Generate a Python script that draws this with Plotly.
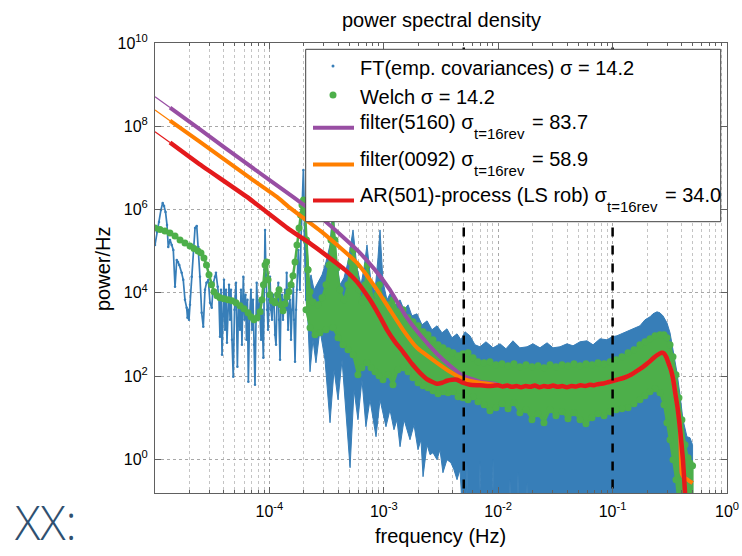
import numpy as np
import plotly.graph_objects as go

# ---------------------------------------------------------------------------
# Spectra, given as log10(frequency / Hz) and log10(power / Hz)
# ---------------------------------------------------------------------------

# FT of the empirical covariances: resolved low-frequency part
ft_lf = [-5.000, -4.983, -4.965, -4.948, -4.933, -4.921, -4.908, -4.895, -4.884, -4.869,
         -4.854, -4.840, -4.825, -4.810, -4.799, -4.788, -4.767, -4.753, -4.738, -4.723,
         -4.716, -4.709, -4.703, -4.694, -4.679, -4.665, -4.650, -4.635, -4.621, -4.607,
         -4.592, -4.578, -4.563, -4.550, -4.534, -4.519, -4.504, -4.490, -4.476, -4.467,
         -4.452, -4.441, -4.432, -4.423, -4.414, -4.406, -4.397, -4.388, -4.379, -4.371,
         -4.362, -4.353, -4.344, -4.336, -4.327, -4.316, -4.305, -4.292, -4.280, -4.270,
         -4.257, -4.248, -4.240, -4.228, -4.218, -4.209, -4.200, -4.192, -4.184, -4.174,
         -4.161, -4.152, -4.143, -4.135, -4.126, -4.117, -4.111, -4.100, -4.087, -4.073,
         -4.065, -4.053, -4.044, -4.038, -4.030, -4.021, -4.012, -4.003, -3.995, -3.986,
         -3.977, -3.969, -3.960, -3.951, -3.942, -3.934, -3.922, -3.916, -3.907, -3.899,
         -3.890, -3.881, -3.872, -3.864, -3.855, -3.849, -3.837, -3.829, -3.820, -3.811,
         -3.802, -3.791, -3.785, -3.776, -3.767, -3.759, -3.747, -3.741, -3.733, -3.724,
         -3.715, -3.703, -3.693, -3.680]
ft_lp = [5.150, 5.462, 5.702, 5.990, 6.158, 6.086, 5.942, 5.630, 5.102, 5.270,
         5.150, 5.030, 4.142, 4.790, 4.742, 4.670, 4.478, 4.310, 3.830, 3.638,
         3.398, 3.590, 3.350, 3.710, 4.382, 5.102, 5.558, 5.606, 5.102, 4.382,
         3.518, 3.182, 4.070, 4.238, 4.310, 3.758, 3.638, 4.238, 4.382, 4.478,
         4.142, 3.830, 2.942, 4.070, 2.510, 3.830, 4.310, 3.110, 4.070, 2.798,
         3.830, 4.190, 3.350, 4.070, 2.870, 1.982, 3.590, 4.238, 2.222, 3.710,
         3.110, 4.070, 2.750, 4.382, 3.350, 3.950, 2.870, 3.830, 1.862, 3.350,
         4.070, 3.110, 3.830, 2.750, 1.790, 3.350, 4.238, 3.350, 3.830, 2.870,
         3.590, 2.438, 4.550, 5.510, 4.430, 3.590, 3.110, 3.830, 4.382, 3.590,
         3.350, 3.950, 3.830, 2.990, 2.750, 3.710, 4.238, 3.350, 2.390, 3.710,
         3.950, 3.350, 3.830, 4.070, 3.590, 4.478, 3.110, 3.710, 3.830, 2.870,
         3.590, 4.142, 3.350, 2.342, 3.590, 4.070, 5.030, 4.550, 4.070, 5.270,
         6.230, 6.950, 5.750, 3.830]

# FT of the empirical covariances: dense part, upper envelope
ft_hi_lf = [-3.698, -3.680, -3.663, -3.636, -3.610, -3.575, -3.540, -3.505, -3.470, -3.444,
            -3.418, -3.383, -3.348, -3.313, -3.269, -3.234, -3.199, -3.173, -3.147, -3.112,
            -3.077, -3.051, -3.033, -3.007, -2.972, -2.937, -2.902, -2.858, -2.823, -2.788,
            -2.754, -2.710, -2.666, -2.622, -2.579, -2.535, -2.491, -2.448, -2.404, -2.360,
            -2.325, -2.290, -2.247, -2.203, -2.159, -2.107, -2.045, -1.984, -1.932, -1.871,
            -1.810, -1.748, -1.696, -1.635, -1.573, -1.521, -1.460, -1.399, -1.346, -1.285,
            -1.224, -1.171, -1.110, -1.049, -1.005, -0.962, -0.918, -0.874, -0.822, -0.761,
            -0.717, -0.673, -0.647, -0.612, -0.586, -0.560, -0.525, -0.498, -0.472, -0.437,
            -0.411, -0.385, -0.350, -0.324, -0.301]
ft_hi_lp = [5.990, 4.790, 4.190, 4.430, 4.070, 4.262, 4.430, 4.742, 5.150, 6.062,
            4.910, 4.190, 4.358, 4.742, 5.510, 4.598, 4.190, 4.598, 5.150, 4.262,
            4.022, 4.838, 5.510, 4.262, 3.830, 4.022, 3.710, 3.830, 3.590, 3.710,
            3.446, 3.494, 3.230, 3.326, 3.110, 3.206, 3.038, 3.134, 2.918, 3.014,
            2.870, 3.062, 2.966, 2.750, 2.702, 2.822, 2.678, 2.774, 2.654, 2.846,
            2.678, 2.702, 2.774, 2.678, 2.798, 2.678, 2.702, 2.774, 2.726, 2.822,
            2.846, 2.750, 2.894, 2.870, 2.942, 2.966, 3.014, 3.062, 3.134, 3.206,
            3.350, 3.422, 3.494, 3.542, 3.518, 3.446, 3.278, 3.038, 2.630, 2.078,
            1.550, 0.950, 0.542, 0.518, 0.350]

# FT of the empirical covariances: dense part, lower envelope
ft_lo_lf = [-3.698, -3.680, -3.663, -3.645, -3.619, -3.593, -3.558, -3.514, -3.470, -3.435,
            -3.400, -3.365, -3.330, -3.295, -3.260, -3.226, -3.191, -3.156, -3.121, -3.094,
            -3.068, -3.033, -3.007, -2.981, -2.946, -2.911, -2.885, -2.858, -2.823, -2.797,
            -2.771, -2.736, -2.701, -2.675, -2.657, -2.622, -2.596, -2.570, -2.535, -2.509,
            -2.483, -2.448, -2.413, -2.387, -2.360, -2.334, -2.308, -2.282, -2.273, -2.264,
            -2.168, -2.159, -2.151, -2.054, -2.045, -2.037, -1.906, -1.897, -1.888, -1.836,
            -1.827, -1.818, -1.757, -1.748, -1.740, -0.301]
ft_lo_lp = [5.510, 3.830, 3.302, 2.102, 2.870, 2.318, 3.110, 2.390, 0.878, 2.150,
            1.430, 2.390, 1.190, -0.202, 1.670, 0.950, 1.910, 0.782, 1.430, 0.950,
            0.542, 1.430, 1.070, 0.782, 1.190, 0.710, 0.950, 0.302, 0.950, 0.710,
            0.470, 0.830, 0.230, 0.470, -0.418, 0.350, 0.110, 0.158, -0.010, 0.230,
            -0.322, -0.010, -0.082, -0.250, -0.490, -0.250, -1.500, -1.500, -0.058, -1.500,
            -1.500, -0.058, -1.500, -1.500, -0.010, -1.500, -1.500, -0.490, -1.500, -1.500,
            -0.322, -1.500, -1.500, -0.562, -1.500, -1.500]

# Welch estimate: smooth low-frequency part
welch_lf = [-5.000, -4.956, -4.913, -4.869, -4.825, -4.781, -4.738, -4.694, -4.659, -4.624,
            -4.598, -4.572, -4.550, -4.528, -4.506, -4.484, -4.458, -4.432, -4.397, -4.362,
            -4.327, -4.292, -4.257, -4.222, -4.187, -4.161, -4.135, -4.108, -4.082, -4.065,
            -4.052, -4.038, -4.025, -4.012, -3.995, -3.973, -3.951, -3.929, -3.916, -3.899,
            -3.881, -3.864, -3.846, -3.829, -3.811, -3.794, -3.776, -3.759, -3.741, -3.728,
            -3.715, -3.702, -3.689, -3.676, -3.663]
welch_lp = [5.558, 5.522, 5.486, 5.438, 5.366, 5.270, 5.198, 5.126, 5.066, 5.006,
            4.958, 4.838, 4.670, 4.430, 4.190, 4.022, 3.926, 3.878, 3.854, 3.830,
            3.806, 3.758, 3.686, 3.614, 3.518, 3.422, 3.350, 3.398, 3.542, 3.830,
            4.190, 4.670, 4.742, 4.310, 3.950, 3.806, 3.758, 3.950, 4.070, 3.710,
            3.566, 3.734, 3.902, 4.022, 4.190, 4.406, 4.742, 5.150, 5.558, 5.870,
            6.110, 6.230, 5.990, 5.270, 4.550]

# Welch estimate: dense part, upper envelope
welch_hi_lf = [-3.680, -3.663, -3.645, -3.619, -3.575, -3.540, -3.505, -3.479, -3.462, -3.444,
               -3.427, -3.409, -3.383, -3.348, -3.313, -3.287, -3.265, -3.243, -3.217, -3.191,
               -3.164, -3.143, -3.121, -3.086, -3.059, -3.038,
               -3.007, -2.963, -2.920, -2.876, -2.832, -2.788, -2.745, -2.701, -2.657, -2.614,
               -2.570, -2.526, -2.483, -2.439, -2.395, -2.351, -2.308, -2.264, -2.220, -2.177,
               -2.124, -2.072, -2.019, -1.967, -1.914, -1.862, -1.810, -1.757, -1.705, -1.652,
               -1.600, -1.547, -1.495, -1.442, -1.390, -1.337, -1.285, -1.233, -1.180, -1.128,
               -1.075, -1.023, -0.970, -0.918, -0.865, -0.813, -0.761, -0.717, -0.673, -0.629,
               -0.586, -0.551, -0.525, -0.498, -0.472, -0.446, -0.420, -0.394, -0.367, -0.341,
               -0.324, -0.301]
welch_hi_lp = [5.270, 4.550, 4.022, 3.781, 3.710, 3.878, 4.190, 4.670, 5.270, 5.798,
               5.270, 4.598, 4.070, 3.830, 4.190, 4.742, 5.030, 4.670, 4.070, 3.781,
               4.190, 4.670, 4.190, 3.781, 3.950, 4.190,
               3.830, 3.710, 3.830, 3.542, 3.590, 3.398, 3.302, 3.206, 3.062, 2.990,
               2.870, 2.750, 2.678, 2.606, 2.558, 2.486, 2.534, 2.558, 2.438, 2.342,
               2.318, 2.342, 2.270, 2.294, 2.246, 2.294, 2.222, 2.270, 2.222, 2.246,
               2.198, 2.270, 2.222, 2.270, 2.246, 2.294, 2.246, 2.294, 2.270, 2.318,
               2.294, 2.342, 2.390, 2.462, 2.558, 2.630, 2.750, 2.822, 2.894, 2.966,
               2.990, 2.990, 2.918, 2.750, 2.462, 2.030, 1.478, 0.950, 0.350, 0.038,
               -0.082, -0.154]

# Welch estimate: dense part, lower envelope
welch_lo_lf = [-3.680, -3.645, -3.601, -3.558, -3.505, -3.444, -3.400, -3.357, -3.313, -3.269,
               -3.226, -3.191, -3.147, -3.112, -3.077, -3.042,
               -3.007, -2.963, -2.920, -2.876, -2.832, -2.788, -2.745, -2.701, -2.657, -2.614,
               -2.570, -2.526, -2.483, -2.439, -2.395, -2.351, -2.308, -2.264, -2.220, -2.177,
               -2.124, -2.072, -2.019, -1.967, -1.914, -1.862, -1.810, -1.757, -1.705, -1.652,
               -1.600, -1.547, -1.495, -1.442, -1.390, -1.337, -1.285, -1.233, -1.180, -1.128,
               -1.075, -1.023, -0.970, -0.918, -0.865, -0.813, -0.761, -0.717, -0.673, -0.629,
               -0.586, -0.551, -0.525, -0.498, -0.472, -0.446, -0.428, -0.301]
welch_lo_lp = [3.590, 3.158, 2.990, 3.038, 3.110, 3.158, 2.918, 2.750, 2.630, 2.510,
               2.030, 2.198, 2.318, 2.198, 2.102, 2.006,
               1.910, 2.030, 1.790, 2.150, 2.198, 2.102, 1.958, 1.838, 1.766, 1.718,
               1.646, 1.574, 1.622, 1.598, 1.622, 1.502, 1.478, 1.430, 1.502, 1.382,
               1.310, 1.166, 1.238, 1.334, 1.214, 1.358, 1.118, 1.190, 0.950, 1.094,
               0.878, 1.190, 1.046, 1.142, 0.974, 1.118, 0.950, 0.854, 0.998, 1.094,
               1.046, 1.142, 1.190, 1.214, 1.238, 1.334, 1.430, 1.526, 1.622, 1.694,
               1.598, 1.310, 0.878, 0.470, -0.010, -0.490, -0.970, -0.970]

# Model spectra: individual low-frequency parts
f5160_lf = [-5.000, -4.869, -4.607, -4.170, -3.794, -3.514, -3.234, -3.077, -2.946, -2.815,
            -2.684, -2.535, -2.421, -2.308, -2.159, -2.028]
f5160_lp = [8.710, 8.448, 7.923, 7.046, 6.302, 5.726, 5.030, 4.550, 4.070, 3.470,
            2.990, 2.534, 2.246, 2.006, 1.862, 1.814]
f0092_lf = [-5.000, -4.869, -4.607, -4.170, -3.934, -3.820, -3.532, -3.234, -3.059, -2.946,
            -2.832, -2.710, -2.535, -2.421, -2.308, -2.159, -2.028]
f0092_lp = [8.391, 8.134, 7.623, 6.759, 6.302, 6.038, 5.438, 4.718, 4.070, 3.590,
            3.110, 2.678, 2.318, 2.102, 1.934, 1.838, 1.790]
ar_lf = [-5.000, -4.869, -4.607, -4.196, -3.820, -3.645, -3.532, -3.339, -3.234, -3.121,
         -3.033, -2.972, -2.902, -2.832, -2.754, -2.684, -2.614, -2.535, -2.491, -2.448,
         -2.404, -2.360, -2.308, -2.247, -2.159, -2.090, -2.045]
ar_lp = [7.870, 7.611, 7.082, 6.302, 5.510, 5.186, 4.958, 4.550, 4.262, 3.830,
         3.421, 3.110, 2.822, 2.582, 2.294, 2.078, 1.910, 1.814, 1.838, 1.886,
         1.910, 1.910, 1.838, 1.790, 1.778, 1.760, 1.766]

# Model spectra: common plateau and resonance
plateau_lf = [-2.00, -1.96, -1.92, -1.88, -1.84, -1.80, -1.76, -1.72, -1.68, -1.64,
              -1.60, -1.56, -1.52, -1.48, -1.44, -1.40, -1.36, -1.32, -1.28, -1.24,
              -1.20, -1.16, -1.12, -1.08, -1.04, -1.00, -0.96, -0.92, -0.88, -0.84,
              -0.80, -0.76, -0.72, -0.68, -0.64, -0.60, -0.57, -0.55, -0.53, -0.51,
              -0.49, -0.47, -0.45, -0.43, -0.41]
plateau_lp = [1.78, 1.75, 1.77, 1.74, 1.76, 1.73, 1.76, 1.74, 1.77, 1.73,
              1.76, 1.74, 1.77, 1.74, 1.76, 1.73, 1.76, 1.75, 1.78, 1.76,
              1.79, 1.78, 1.81, 1.82, 1.85, 1.88, 1.91, 1.94, 1.98, 2.03,
              2.10, 2.17, 2.25, 2.34, 2.44, 2.52, 2.56, 2.54, 2.45, 2.30,
              2.15, 1.91, 1.55, 1.20, 0.71]

# Model spectra: roll-off towards the Nyquist frequency
ar_end_lf = [-0.385, -0.367, -0.350]
ar_end_lp = [-0.010, -0.800, -1.450]
filt_end_lf = [-0.395, -0.370, -0.340, -0.301]
filt_end_lp = [-0.350, -0.450, -0.500, -0.570]

# Frequency band limits
band_edges = [5e-3, 1e-1]

# ---------------------------------------------------------------------------
BLUE, GREEN, PURPLE, ORANGE, RED = "#377eb8", "#4daf4a", "#984ea3", "#ff7f00", "#e41a1c"
FONT = "Liberation Sans, Arial, Helvetica, sans-serif"

# plot-area geometry in pixels (figure 742 x 556)
L, R, T, B = 155, 727, 43, 493


def px(x):
    return (x - L) / (R - L)


def py(y):
    return (B - y) / (B - T)


def lin(v):
    return 10 ** np.asarray(v, dtype=float)


def polygon(lf_hi, lp_hi, lf_lo, lp_lo):
    xs = list(lf_hi) + list(lf_lo)[::-1]
    ys = list(lp_hi) + list(lp_lo)[::-1]
    return lin(xs), lin(ys)


fig = go.Figure()

# FT of empirical covariances
bx, by = polygon(ft_hi_lf, ft_hi_lp, ft_lo_lf, ft_lo_lp)
fig.add_trace(go.Scatter(x=bx, y=by, mode="lines", fill="toself", fillcolor=BLUE,
                         line=dict(color=BLUE, width=1), hoverinfo="skip"))
fig.add_trace(go.Scatter(x=lin(ft_lf), y=lin(ft_lp), mode="lines+markers",
                         line=dict(color=BLUE, width=1.7),
                         marker=dict(color=BLUE, size=2.5)))

# Welch
gx, gy = polygon(welch_hi_lf, welch_hi_lp, welch_lo_lf, welch_lo_lp)
fig.add_trace(go.Scatter(x=gx, y=gy, mode="lines+markers", fill="toself", fillcolor=GREEN,
                         line=dict(color=GREEN, width=2),
                         marker=dict(color=GREEN, size=7), hoverinfo="skip"))
fig.add_trace(go.Scatter(x=lin(welch_lf), y=lin(welch_lp), mode="lines+markers",
                         line=dict(color=GREEN, width=2.5),
                         marker=dict(color=GREEN, size=7)))


def model(head_lf, head_lp, end_lf, end_lp, color, width):
    lf = list(head_lf) + plateau_lf + list(end_lf)
    lp = list(head_lp) + plateau_lp + list(end_lp)
    # thin first segment, then the full-width curve
    fig.add_trace(go.Scatter(x=lin(lf[:2]), y=lin(lp[:2]), mode="lines",
                             line=dict(color=color, width=1.2)))
    fig.add_trace(go.Scatter(x=lin(lf[1:]), y=lin(lp[1:]), mode="lines",
                             line=dict(color=color, width=width, shape="spline",
                                       smoothing=0.4)))


model(f5160_lf, f5160_lp, filt_end_lf, filt_end_lp, PURPLE, 4)
model(f0092_lf, f0092_lp, filt_end_lf, filt_end_lp, ORANGE, 4)
model(ar_lf, ar_lp, ar_end_lf, ar_end_lp, RED, 4.5)

# band limits
for f in band_edges:
    fig.add_trace(go.Scatter(x=[f, f], y=[1e-2, 1e11], mode="lines",
                             line=dict(color="black", width=2.5, dash="dash")))

# ---------------------------------------------------------------------------
decades = [1e-5, 1e-4, 1e-3, 1e-2, 1e-1]
minor_x = [m * d for d in decades for m in range(2, 10)]
xt = [1e-4, 1e-3, 1e-2, 1e-1, 1e0]
xt_text = ["10<sup>-4</sup>", "10<sup>-3</sup>", "10<sup>-2</sup>", "10<sup>-1</sup>", "10<sup>0</sup>"]
yt = [1e0, 1e2, 1e4, 1e6, 1e8, 1e10]
yt_text = ["10<sup>0</sup>", "10<sup>2</sup>", "10<sup>4</sup>", "10<sup>6</sup>",
           "10<sup>8</sup>", "10<sup>10</sup>"]

axis_common = dict(type="log", showline=True, linecolor="#606060", linewidth=1,
                   mirror="allticks", ticks="inside", ticklen=6, tickcolor="#606060",
                   showgrid=True, gridcolor="#a8a8a8", griddash="dot", gridwidth=1,
                   zeroline=False, automargin=False,
                   tickfont=dict(family=FONT, size=16, color="black"))

fig.update_xaxes(range=[-5, 0], tickmode="array", tickvals=xt, ticktext=xt_text,
                 ticklabelstandoff=4,
                 minor=dict(tickvals=minor_x, ticks="inside", ticklen=3, tickcolor="#606060",
                            showgrid=True, gridcolor="#c4c4c4", griddash="dot"),
                 **axis_common)
fig.update_yaxes(range=[-0.81, 10], tickmode="array", tickvals=yt, ticktext=yt_text,
                 ticklabelstandoff=3, **axis_common)

shapes = [dict(type="rect", xref="paper", yref="paper", layer="above",
               x0=px(305.7), x1=px(720.7), y0=py(221.7), y1=py(49.3),
               line=dict(color="#404040", width=1), fillcolor="white")]

# legend line samples
for yy, col in [(127.7, PURPLE), (164.5, ORANGE), (200.5, RED)]:
    shapes.append(dict(type="line", xref="paper", yref="paper", layer="above",
                       x0=px(313), x1=px(354), y0=py(yy), y1=py(yy),
                       line=dict(color=col, width=4)))
# legend marker samples
for yy, col, r in [(66, BLUE, 1.5), (95, GREEN, 3.5)]:
    shapes.append(dict(type="circle", xref="paper", yref="paper", layer="above",
                       xsizemode="pixel", ysizemode="pixel",
                       xanchor=px(333), yanchor=py(yy), x0=-r, x1=r, y0=-r, y1=r,
                       line=dict(width=0), fillcolor=col))

# legend texts: (left x, centre y, text, font size)
legend_texts = [
    (358, 68.5, "FT(emp. covariances) σ = 14.2", 20),
    (358, 96.5, "Welch σ = 14.2", 20),
    (358, 122, "filter(5160) σ", 20),
    (471.5, 133, "t=16rev", 15),
    (530, 122, "= 83.7", 20),
    (358, 159.5, "filter(0092) σ", 20),
    (471.5, 170, "t=16rev", 15),
    (530, 159.5, "= 58.9", 20),
    (358, 195, "AR(501)-process (LS rob) σ", 20),
    (605, 206, "t=16rev", 15),
    (663, 195, "= 34.0", 20),
]
annotations = []
for xx, yy, txt, size in legend_texts:
    annotations.append(dict(xref="paper", yref="paper", x=px(xx), y=py(yy),
                            xanchor="left", yanchor="middle", showarrow=False, text=txt,
                            font=dict(family=FONT, size=size, color="black")))

annotations += [
    dict(xref="paper", yref="paper", x=0.5, y=py(20), xanchor="center", yanchor="middle",
         showarrow=False, text="power spectral density",
         font=dict(family=FONT, size=20, color="black")),
    dict(xref="paper", yref="paper", x=px(440), y=py(536), xanchor="center", yanchor="middle",
         showarrow=False, text="frequency (Hz)",
         font=dict(family=FONT, size=20, color="black")),
    dict(xref="paper", yref="paper", x=px(103), y=py(269), xanchor="center", yanchor="middle",
         showarrow=False, text="power/Hz", textangle=-90,
         font=dict(family=FONT, size=20, color="black")),
    dict(xref="paper", yref="paper", x=px(12), y=py(555.5), xanchor="left", yanchor="bottom",
         showarrow=False, text="XX:",
         font=dict(family="Open Sans, Liberation Sans, sans-serif", size=47,
                   weight=300, color="#2f5070")),
]

fig.update_layout(width=742, height=556, margin=dict(l=L, r=742 - R, t=T, b=556 - B),
                  paper_bgcolor="white", plot_bgcolor="white", showlegend=False,
                  shapes=shapes, annotations=annotations,
                  font=dict(family=FONT, color="black"))

fig.write_html("out.html")
